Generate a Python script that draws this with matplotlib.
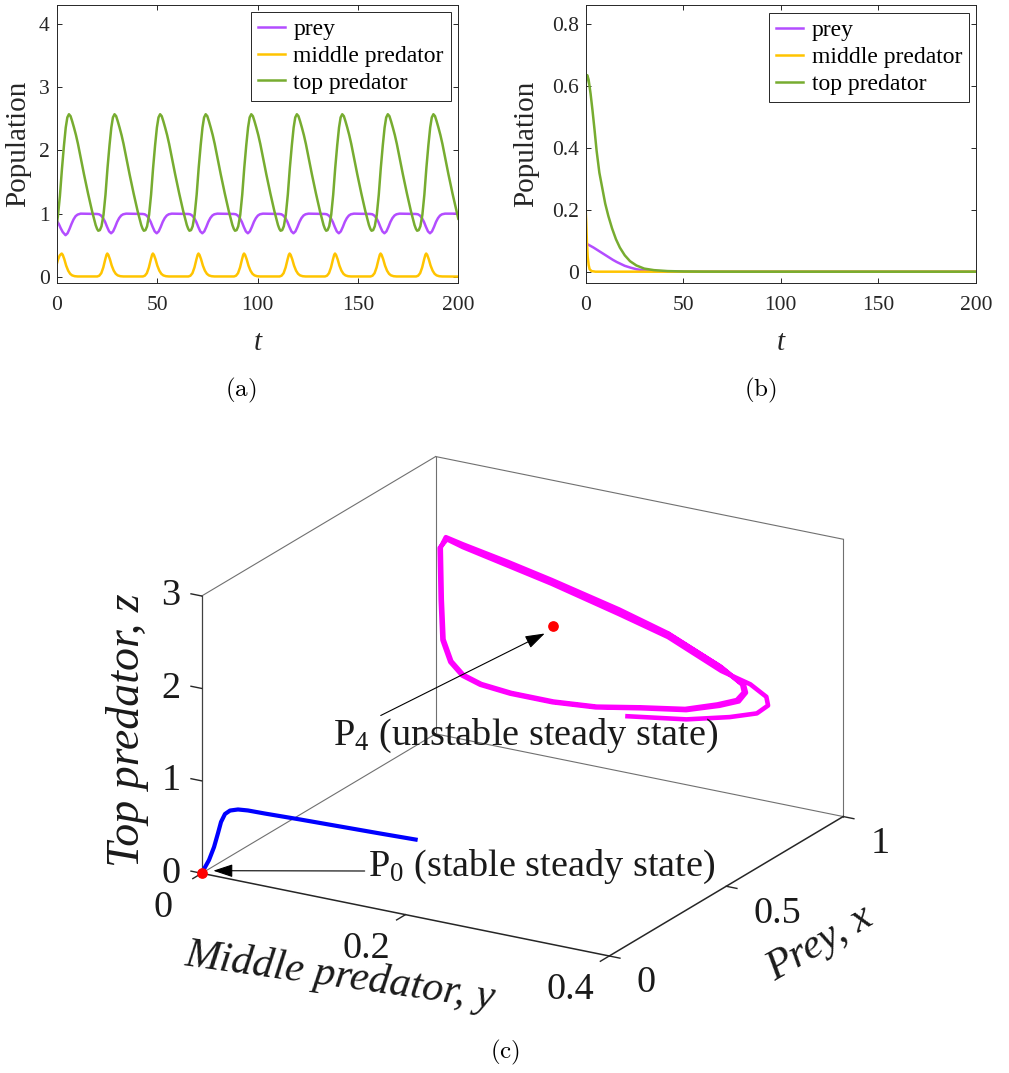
import numpy as np
import matplotlib
matplotlib.use('Agg')
import matplotlib.pyplot as plt
from mpl_toolkits.mplot3d import proj3d

plt.rcParams['font.family'] = 'Liberation Serif'
plt.rcParams['mathtext.fontset'] = 'custom'
plt.rcParams['mathtext.rm'] = 'Liberation Serif'
plt.rcParams['mathtext.it'] = 'Liberation Serif:italic'

c_prey = '#B34DFF'
c_mid = '#FFC400'
c_top = '#77AC30'
dark = '#262626'

# ---------------- panel (a): periodic solution ----------------
prey_a_t = [
    0, 1, 2, 3, 4.4, 5.4, 6.4, 7.4, 8.4, 9.4, 10.4, 11.9,
    20.1, 21.1, 22.1, 23.1, 24.1, 25.1, 26.1, 27.1, 28.1, 29.1, 30.1, 31.1, 32.1, 33.1, 34.6,
    42.8, 43.8, 44.8, 45.8, 46.8, 47.8, 48.8, 49.8, 50.8, 51.8, 52.8, 53.8, 54.8, 55.8, 57.3,
    65.5, 66.5, 67.5, 68.5, 69.5, 70.5, 71.5, 72.5, 73.5, 74.5, 75.5, 76.5, 77.5, 78.5, 80.0,
    88.2, 89.2, 90.2, 91.2, 92.2, 93.2, 94.2, 95.2, 96.2, 97.2, 98.2, 99.2, 100.2, 101.2, 102.7,
    110.9, 111.9, 112.9, 113.9, 114.9, 115.9, 116.9, 117.9, 118.9, 119.9, 120.9, 121.9, 122.9, 123.9, 125.4,
    133.5, 134.5, 135.5, 136.5, 137.5, 138.5, 139.5, 140.5, 141.5, 142.5, 143.5, 144.5, 145.5, 146.5, 148.0,
    156.2, 157.2, 158.2, 159.2, 160.2, 161.2, 162.2, 163.2, 164.2, 165.2, 166.2, 167.2, 168.2, 169.2, 170.7,
    178.9, 179.9, 180.9, 181.9, 182.9, 183.9, 184.9, 185.9, 186.9, 187.9, 188.9, 189.9, 190.9, 191.9, 193.4,
    200,
]
prey_a_v = [
    0.89, 0.84, 0.77, 0.71, 0.66, 0.69, 0.76, 0.84, 0.91, 0.96, 0.985, 1.0,
    0.995, 0.99, 0.97, 0.93, 0.87, 0.79, 0.72, 0.69, 0.72, 0.79, 0.87, 0.93, 0.97, 0.99, 1.0,
    0.995, 0.99, 0.97, 0.93, 0.87, 0.79, 0.72, 0.69, 0.72, 0.79, 0.87, 0.93, 0.97, 0.99, 1.0,
    0.995, 0.99, 0.97, 0.93, 0.87, 0.79, 0.72, 0.69, 0.72, 0.79, 0.87, 0.93, 0.97, 0.99, 1.0,
    0.995, 0.99, 0.97, 0.93, 0.87, 0.79, 0.72, 0.69, 0.72, 0.79, 0.87, 0.93, 0.97, 0.99, 1.0,
    0.995, 0.99, 0.97, 0.93, 0.87, 0.79, 0.72, 0.69, 0.72, 0.79, 0.87, 0.93, 0.97, 0.99, 1.0,
    0.995, 0.99, 0.97, 0.93, 0.87, 0.79, 0.72, 0.69, 0.72, 0.79, 0.87, 0.93, 0.97, 0.99, 1.0,
    0.995, 0.99, 0.97, 0.93, 0.87, 0.79, 0.72, 0.69, 0.72, 0.79, 0.87, 0.93, 0.97, 0.99, 1.0,
    0.995, 0.99, 0.97, 0.93, 0.87, 0.79, 0.72, 0.69, 0.72, 0.79, 0.87, 0.93, 0.97, 0.99, 1.0,
    1.0,
]

mid_a_t = [
    0, 0.6, 1.5, 2.1, 2.5, 3.0, 3.8, 4.7, 5.7, 6.7, 7.7, 9.0, 10.5,
    20.2, 21.2, 22.2, 23.2, 24.2, 24.8, 25.2, 25.7, 26.5, 27.4, 28.4, 29.4, 30.4, 31.7, 33.2,
    42.9, 43.9, 44.9, 45.9, 46.9, 47.5, 47.9, 48.4, 49.2, 50.1, 51.1, 52.1, 53.1, 54.4, 55.9,
    65.6, 66.6, 67.6, 68.6, 69.6, 70.2, 70.6, 71.1, 71.9, 72.8, 73.8, 74.8, 75.8, 77.1, 78.6,
    88.3, 89.3, 90.3, 91.3, 92.3, 92.9, 93.3, 93.8, 94.6, 95.5, 96.5, 97.5, 98.5, 99.8, 101.3,
    111.0, 112.0, 113.0, 114.0, 115.0, 115.6, 116.0, 116.5, 117.3, 118.2, 119.2, 120.2, 121.2, 122.5, 124.0,
    133.6, 134.6, 135.6, 136.6, 137.6, 138.2, 138.6, 139.1, 139.9, 140.8, 141.8, 142.8, 143.8, 145.1, 146.6,
    156.3, 157.3, 158.3, 159.3, 160.3, 160.9, 161.3, 161.8, 162.6, 163.5, 164.5, 165.5, 166.5, 167.8, 169.3,
    179.0, 180.0, 181.0, 182.0, 183.0, 183.6, 184.0, 184.5, 185.3, 186.2, 187.2, 188.2, 189.2, 190.5, 192.0,
    200,
]
mid_a_v = [
    0.20, 0.27, 0.34, 0.36, 0.37, 0.35, 0.28, 0.18, 0.10, 0.05, 0.025, 0.012, 0.008,
    0.008, 0.02, 0.06, 0.15, 0.28, 0.35, 0.37, 0.35, 0.28, 0.18, 0.10, 0.05, 0.025, 0.012, 0.008,
    0.008, 0.02, 0.06, 0.15, 0.28, 0.35, 0.37, 0.35, 0.28, 0.18, 0.10, 0.05, 0.025, 0.012, 0.008,
    0.008, 0.02, 0.06, 0.15, 0.28, 0.35, 0.37, 0.35, 0.28, 0.18, 0.10, 0.05, 0.025, 0.012, 0.008,
    0.008, 0.02, 0.06, 0.15, 0.28, 0.35, 0.37, 0.35, 0.28, 0.18, 0.10, 0.05, 0.025, 0.012, 0.008,
    0.008, 0.02, 0.06, 0.15, 0.28, 0.35, 0.37, 0.35, 0.28, 0.18, 0.10, 0.05, 0.025, 0.012, 0.008,
    0.008, 0.02, 0.06, 0.15, 0.28, 0.35, 0.37, 0.35, 0.28, 0.18, 0.10, 0.05, 0.025, 0.012, 0.008,
    0.008, 0.02, 0.06, 0.15, 0.28, 0.35, 0.37, 0.35, 0.28, 0.18, 0.10, 0.05, 0.025, 0.012, 0.008,
    0.008, 0.02, 0.06, 0.15, 0.28, 0.35, 0.37, 0.35, 0.28, 0.18, 0.10, 0.05, 0.025, 0.012, 0.008,
    0.006,
]

top_a_t = [
    0, 0.6, 1.6, 2.6, 3.6, 4.5, 5.3,
    6.1, 6.9, 7.7, 8.6, 9.6, 10.6, 11.6, 12.6, 13.6, 14.6, 15.6, 16.6, 17.6, 18.6, 19.4, 20.1, 20.7, 21.5, 22.3, 23.3, 24.3, 25.3, 26.3, 27.2, 28.0,
    28.8, 29.6, 30.4, 31.3, 32.3, 33.3, 34.3, 35.3, 36.3, 37.3, 38.3, 39.3, 40.3, 41.3, 42.1, 42.8, 43.4, 44.2, 45.0, 46.0, 47.0, 48.0, 49.0, 49.9, 50.7,
    51.5, 52.3, 53.1, 54.0, 55.0, 56.0, 57.0, 58.0, 59.0, 60.0, 61.0, 62.0, 63.0, 64.0, 64.8, 65.5, 66.1, 66.9, 67.7, 68.7, 69.7, 70.7, 71.7, 72.6, 73.4,
    74.2, 75.0, 75.8, 76.7, 77.7, 78.7, 79.7, 80.7, 81.7, 82.7, 83.7, 84.7, 85.7, 86.7, 87.5, 88.2, 88.8, 89.6, 90.4, 91.4, 92.4, 93.4, 94.4, 95.3, 96.1,
    96.9, 97.7, 98.5, 99.4, 100.4, 101.4, 102.4, 103.4, 104.4, 105.4, 106.4, 107.4, 108.4, 109.4, 110.2, 110.9, 111.5, 112.3, 113.1, 114.1, 115.1, 116.1, 117.1, 118.0, 118.8,
    119.6, 120.4, 121.2, 122.1, 123.1, 124.1, 125.1, 126.1, 127.1, 128.1, 129.1, 130.1, 131.1, 132.1, 132.9, 133.6, 134.2, 134.9, 135.7, 136.7, 137.7, 138.7, 139.7, 140.6, 141.4,
    142.2, 143.0, 143.8, 144.7, 145.7, 146.7, 147.7, 148.7, 149.7, 150.7, 151.7, 152.7, 153.7, 154.7, 155.5, 156.2, 156.8, 157.6, 158.4, 159.4, 160.4, 161.4, 162.4, 163.3, 164.1,
    164.9, 165.7, 166.5, 167.4, 168.4, 169.4, 170.4, 171.4, 172.4, 173.4, 174.4, 175.4, 176.4, 177.4, 178.2, 178.9, 179.5, 180.3, 181.1, 182.1, 183.1, 184.1, 185.1, 186.0, 186.8,
    187.6, 188.4, 189.2, 190.1, 191.1, 192.1, 193.1, 194.1, 195.1, 196.1, 197.1, 198.1, 199.1, 200.0,
]
top_a_v = [
    0.82, 0.96, 1.28, 1.70, 2.07, 2.36, 2.52,
    2.57, 2.54, 2.46, 2.36, 2.24, 2.10, 1.94, 1.78, 1.62, 1.47, 1.32, 1.18, 1.04, 0.92, 0.82, 0.76, 0.73, 0.74, 0.80, 0.98, 1.30, 1.72, 2.08, 2.36, 2.52,
    2.57, 2.54, 2.46, 2.36, 2.24, 2.10, 1.94, 1.78, 1.62, 1.47, 1.32, 1.18, 1.04, 0.92, 0.82, 0.76, 0.73, 0.74, 0.80, 0.98, 1.30, 1.72, 2.08, 2.36, 2.52,
    2.57, 2.54, 2.46, 2.36, 2.24, 2.10, 1.94, 1.78, 1.62, 1.47, 1.32, 1.18, 1.04, 0.92, 0.82, 0.76, 0.73, 0.74, 0.80, 0.98, 1.30, 1.72, 2.08, 2.36, 2.52,
    2.57, 2.54, 2.46, 2.36, 2.24, 2.10, 1.94, 1.78, 1.62, 1.47, 1.32, 1.18, 1.04, 0.92, 0.82, 0.76, 0.73, 0.74, 0.80, 0.98, 1.30, 1.72, 2.08, 2.36, 2.52,
    2.57, 2.54, 2.46, 2.36, 2.24, 2.10, 1.94, 1.78, 1.62, 1.47, 1.32, 1.18, 1.04, 0.92, 0.82, 0.76, 0.73, 0.74, 0.80, 0.98, 1.30, 1.72, 2.08, 2.36, 2.52,
    2.57, 2.54, 2.46, 2.36, 2.24, 2.10, 1.94, 1.78, 1.62, 1.47, 1.32, 1.18, 1.04, 0.92, 0.82, 0.76, 0.73, 0.74, 0.80, 0.98, 1.30, 1.72, 2.08, 2.36, 2.52,
    2.57, 2.54, 2.46, 2.36, 2.24, 2.10, 1.94, 1.78, 1.62, 1.47, 1.32, 1.18, 1.04, 0.92, 0.82, 0.76, 0.73, 0.74, 0.80, 0.98, 1.30, 1.72, 2.08, 2.36, 2.52,
    2.57, 2.54, 2.46, 2.36, 2.24, 2.10, 1.94, 1.78, 1.62, 1.47, 1.32, 1.18, 1.04, 0.92, 0.82, 0.76, 0.73, 0.74, 0.80, 0.98, 1.30, 1.72, 2.08, 2.36, 2.52,
    2.57, 2.54, 2.46, 2.36, 2.24, 2.10, 1.94, 1.78, 1.62, 1.47, 1.32, 1.18, 1.04, 0.92,
]

# ---------------- panel (b): decay to extinction ----------------
prey_b_t = [0, 0.5, 2, 4, 6, 8, 10, 12, 14, 16, 18, 20, 23, 26, 30, 35, 45, 60, 200]
prey_b_v = [0.1, 0.09, 0.085, 0.078, 0.07, 0.062, 0.054, 0.046, 0.038, 0.031, 0.025,
            0.019, 0.013, 0.008, 0.004, 0.002, 0.0005, 0, 0]
mid_b_t = [0, 0.3, 0.6, 1.0, 1.5, 2.0, 3, 5, 200]
mid_b_v = [0.2, 0.16, 0.1, 0.05, 0.022, 0.008, 0.002, 0, 0]
top_b_t = [0, 0.4, 0.8, 1.5, 2.5, 3.5, 4.5, 5.6, 7, 8.5, 10, 11.6, 13.5, 15.5, 17.5,
           20, 22.7, 26, 30, 35, 42, 50, 60, 80, 200]
top_b_v = [0.60, 0.63, 0.635, 0.62, 0.575, 0.52, 0.46, 0.39, 0.32, 0.27, 0.22, 0.18,
           0.14, 0.105, 0.078, 0.053, 0.034, 0.02, 0.01, 0.005, 0.002, 0.0007, 0.0002, 0, 0]

# ---------------- panel (c): phase space (prey x, middle y, top z) ----------------
cyc_x = [0.90, 0.87, 0.85, 0.84, 0.84, 0.85, 0.86,
         0.88, 0.90, 0.93, 0.96, 0.98, 0.995, 1.0,
         1.0, 1.0, 0.99, 0.98, 0.97, 0.96,
         0.94, 0.92, 0.90, 0.88, 0.86, 0.85, 0.85, 0.85, 0.86,
         0.88, 0.90, 0.93, 0.96, 0.98, 0.995, 1.0,
         1.0, 1.0, 0.99, 0.98, 0.97, 0.96,
         0.94, 0.92, 0.90, 0.88, 0.86, 0.85, 0.85, 0.85, 0.86,
         0.88, 0.90]
cyc_y = [0.209, 0.276, 0.323, 0.352, 0.363, 0.359, 0.341,
         0.308, 0.251, 0.196, 0.123, 0.075, 0.028, 0.011,
         0.004, 0.005, 0.009, 0.019, 0.033, 0.053,
         0.087, 0.133, 0.180, 0.229, 0.278, 0.313, 0.332, 0.339, 0.335,
         0.308, 0.251, 0.196, 0.123, 0.075, 0.028, 0.010,
         0.005, 0.006, 0.010, 0.020, 0.034, 0.054,
         0.088, 0.134, 0.181, 0.229, 0.277, 0.311, 0.330, 0.337, 0.333,
         0.306, 0.250]
cyc_z = [0.81, 0.97, 1.13, 1.25, 1.36, 1.43, 1.51,
         1.55, 1.76, 1.84, 1.96, 2.02, 2.09, 2.13,
         2.02, 1.46, 1.05, 0.85, 0.75, 0.71,
         0.72, 0.76, 0.84, 0.97, 1.09, 1.23, 1.32, 1.43, 1.48,
         1.59, 1.80, 1.89, 2.00, 2.06, 2.12, 2.15,
         2.03, 1.47, 1.06, 0.86, 0.76, 0.72,
         0.73, 0.77, 0.85, 0.98, 1.10, 1.24, 1.33, 1.43, 1.49,
         1.60, 1.80]

ext_x = [0.1, 0.1, 0.1, 0.1, 0.1, 0.1, 0.098, 0.095, 0.09, 0.08, 0.065, 0.05, 0.03, 0.009, 0]
ext_y = [0.189, 0.152, 0.113, 0.0735, 0.039, 0.0224, 0.0131, 0.006, 0.0022, 0.0006,
         0.0011, 0.0006, 0.0003, 0.0002, 0]
ext_z = [0.633, 0.620, 0.608, 0.596, 0.583, 0.579, 0.572, 0.549, 0.511, 0.436,
         0.340, 0.209, 0.099, 0.033, 0]

P0 = (0.0, 0.0, 0.0)
P4 = (0.93, 0.131, 1.56)

x_ticks = [0, 0.5, 1]
y_ticks = [0, 0.2, 0.4]
z_ticks = [0, 1, 2, 3]

W, H = 1009, 1073
fig = plt.figure(figsize=(W / 100, H / 100), dpi=100)


def box_px(l, t, r, b):
    return [l / W, 1 - b / H, (r - l) / W, (b - t) / H]


ax1 = fig.add_axes(box_px(56.7, 4.7, 458.3, 283.3))
ax2 = fig.add_axes(box_px(585.7, 4.7, 976.0, 283.3))

panels = [
    (ax1, prey_a_t, prey_a_v, mid_a_t, mid_a_v, top_a_t, top_a_v,
     (-0.1, 4.3), [0, 1, 2, 3, 4], ['0', '1', '2', '3', '4'], -0.097, (0.981, 0.975)),
    (ax2, prey_b_t, prey_b_v, mid_b_t, mid_b_v, top_b_t, top_b_v,
     (-0.0375, 0.8625), [0, 0.2, 0.4, 0.6, 0.8], ['0', '0.2', '0.4', '0.6', '0.8'], -0.153, (0.982, 0.971)),
]
for ax, pt, pv, mt, mv, tt, tv, ylim, yt, ytl, ylx, legpos in panels:
    ax.plot(pt, pv, color=c_prey, lw=1.8, label='prey')
    ax.plot(mt, mv, color=c_mid, lw=1.8, label='middle predator')
    ax.plot(tt, tv, color=c_top, lw=1.8, label='top predator')
    ax.set_xlim(0, 200)
    ax.set_xticks([0, 50, 100, 150, 200])
    ax.set_ylim(*ylim)
    ax.set_yticks(yt)
    ax.set_yticklabels(ytl)
    ax.tick_params(direction='in', top=True, right=True, length=3.5, width=0.7,
                   colors=dark, labelsize=15.5)
    ax.tick_params(axis='x', pad=9)
    ax.tick_params(axis='y', pad=5)
    for s in ax.spines.values():
        s.set_linewidth(0.7)
        s.set_color(dark)
    ax.set_xlabel('t', fontsize=21, fontstyle='italic', va='center', color=dark)
    ax.xaxis.set_label_coords(0.5, -0.215)
    ax.set_ylabel('Population', fontsize=21, va='center', color=dark)
    ax.yaxis.set_label_coords(ylx, 0.5)
    leg = ax.legend(loc='upper right', bbox_to_anchor=legpos, fontsize=17, frameon=True,
                    fancybox=False, edgecolor=dark, framealpha=1, borderpad=0.3,
                    labelspacing=0.22, handlelength=1.15, handletextpad=0.35,
                    borderaxespad=0)
    leg.get_frame().set_linewidth(0.7)

fig.text(241 / W, 1 - 390 / H, r'$\mathrm{(a)}$', fontsize=18, ha='center', va='center',
         math_fontfamily='cm')
fig.text(760 / W, 1 - 390 / H, r'$\mathrm{(b)}$', fontsize=18, ha='center', va='center',
         math_fontfamily='cm')
fig.text(505 / W, 1 - 1052 / H, r'$\mathrm{(c)}$', fontsize=18, ha='center', va='center',
         math_fontfamily='cm')

# ---------------- 3D panel ----------------
side0 = 0.8 * W
ax3 = fig.add_axes([0.1, 0.02, side0 / W, side0 / H], projection='3d', computed_zorder=False)
ax3.set_proj_type('ortho')
ax3.view_init(elev=20.35, azim=30.26)
ax3.set_box_aspect((464.3, 471.9, 295.8))
ax3.set_axis_off()

x0, x1, y0, y1, z0, z1 = 0, 1, 0, 0.4, 0, 3
back = [((x1, x1), (y0, y0), (z0, z1)),
        ((x0, x1), (y0, y0), (z1, z1)), ((x1, x1), (y0, y1), (z1, z1)),
        ((x1, x1), (y1, y1), (z0, z1)), ((x0, x1), (y0, y0), (z0, z0)),
        ((x1, x1), (y0, y1), (z0, z0))]
for ex, ey, ez in back:
    ax3.plot(ex, ey, ez, color='#707070', lw=0.8, zorder=1)
ax3.plot((x0, x0), (y0, y0), (z0, z1), color='#404040', lw=0.9, zorder=1)
ax3.plot((x0, x0), (y0, y1), (z0, z0), color=dark, lw=1.1, zorder=1)
ax3.plot((x0, x1), (y1, y1), (z0, z0), color=dark, lw=1.1, zorder=1)
for v in z_ticks:
    ax3.plot((x0, x0), (y0, y0 - 0.0105), (v, v), color=dark, lw=1.0, zorder=1)
for v in y_ticks:
    ax3.plot((x0, x0 - 0.038), (v, v), (z0, z0), color=dark, lw=1.0, zorder=1)
for v in x_ticks:
    ax3.plot((v, v), (y1, y1 + 0.0105), (z0, z0), color=dark, lw=1.0, zorder=1)

ax3.plot(cyc_x, cyc_y, cyc_z, color='#FF00FF', lw=3.3, zorder=3,
         solid_joinstyle='round', solid_capstyle='butt')
ax3.plot(ext_x, ext_y, ext_z, color='#0000FF', lw=3.0, zorder=3,
         solid_joinstyle='round', solid_capstyle='butt')
for p in (P0, P4):
    ax3.plot([p[0]], [p[1]], [p[2]], 'o', color='#FF0000', ms=6.7, zorder=5)

ax3.set_xlim(x1, x0)
ax3.set_ylim(y0, y1)
ax3.set_zlim(z0, z1)


def to_px(x, y, z):
    xs, ys, _ = proj3d.proj_transform(x, y, z, ax3.get_proj())
    dx, dy = ax3.transData.transform((xs, ys))
    return np.array([dx, H - dy])


# fit the projected box onto the reference placement
tgt_o = np.array([201.7, 873.3])
tgt_c = np.array([843.6, 540.0])
for _ in range(3):
    fig.canvas.draw()
    o = to_px(x0, y0, z0)
    c = to_px(x1, y1, z1)
    s = np.linalg.norm(tgt_c - tgt_o) / np.linalg.norm(c - o)
    bb = ax3.get_position()
    side = bb.width * W * s
    ctr = np.array([(bb.x0 + bb.x1) / 2 * W, H - (bb.y0 + bb.y1) / 2 * H])
    ctr_new = tgt_o - s * (o - ctr)
    ax3.set_position([(ctr_new[0] - side / 2) / W, 1 - (ctr_new[1] + side / 2) / H,
                      side / W, side / H])
fig.canvas.draw()


def put(xyz, dx, dy, s, **kw):
    X, Y = to_px(*xyz)
    fig.text((X + dx) / W, 1 - (Y + dy) / H, s, color='#1a1a1a', **kw)


fs_tick = 27.5
for v in z_ticks:
    put((x0, y0, v), -31, 0, f'{v:g}', fontsize=fs_tick, ha='center', va='center')
for v in y_ticks:
    put((x0, v, z0), -39, 34, f'{v:g}', fontsize=fs_tick, ha='center', va='center')
for v in x_ticks:
    put((v, y1, z0), 27, 27, f'{v:g}', fontsize=fs_tick, ha='left', va='center')

put((x0, y0, 1.5), -74, -4, 'Top predator, z', fontsize=33, fontstyle='italic',
    rotation=90, ha='center', va='center')
put((x0, 0.2, z0), -65, 62, 'Middle predator, y', fontsize=30.5, fontstyle='italic',
    rotation=-8, ha='center', va='center')
put((0.5, y1, z0), 94, 57, 'Prey, x', fontsize=30.5, fontstyle='italic',
    rotation=30, ha='center', va='center')

arrow = dict(arrowstyle='-|>,head_length=0.6,head_width=0.2', color='black', lw=0.8,
             mutation_scale=20, shrinkA=0, shrinkB=0)
p4 = to_px(*P4)
ax3.annotate('', xy=(p4[0] - 8, H - (p4[1] + 7)), xycoords='figure pixels',
             xytext=(p4[0] - 172, H - (p4[1] + 89)), textcoords='figure pixels',
             arrowprops=arrow, annotation_clip=False)
put(P4, -220, 118, r'P$_4$ (unstable steady state)', fontsize=27.5, ha='left', va='baseline')

p0 = to_px(*P0)
ax3.annotate('', xy=(p0[0] + 11.6, H - (p0[1] - 2.6)), xycoords='figure pixels',
             xytext=(p0[0] + 163, H - (p0[1] - 2.3)), textcoords='figure pixels',
             arrowprops=arrow, annotation_clip=False)
put(P0, 166, 2.7, r'P$_0$ (stable steady state)', fontsize=27.5, ha='left', va='baseline')

fig.savefig('out.png', dpi=100)
